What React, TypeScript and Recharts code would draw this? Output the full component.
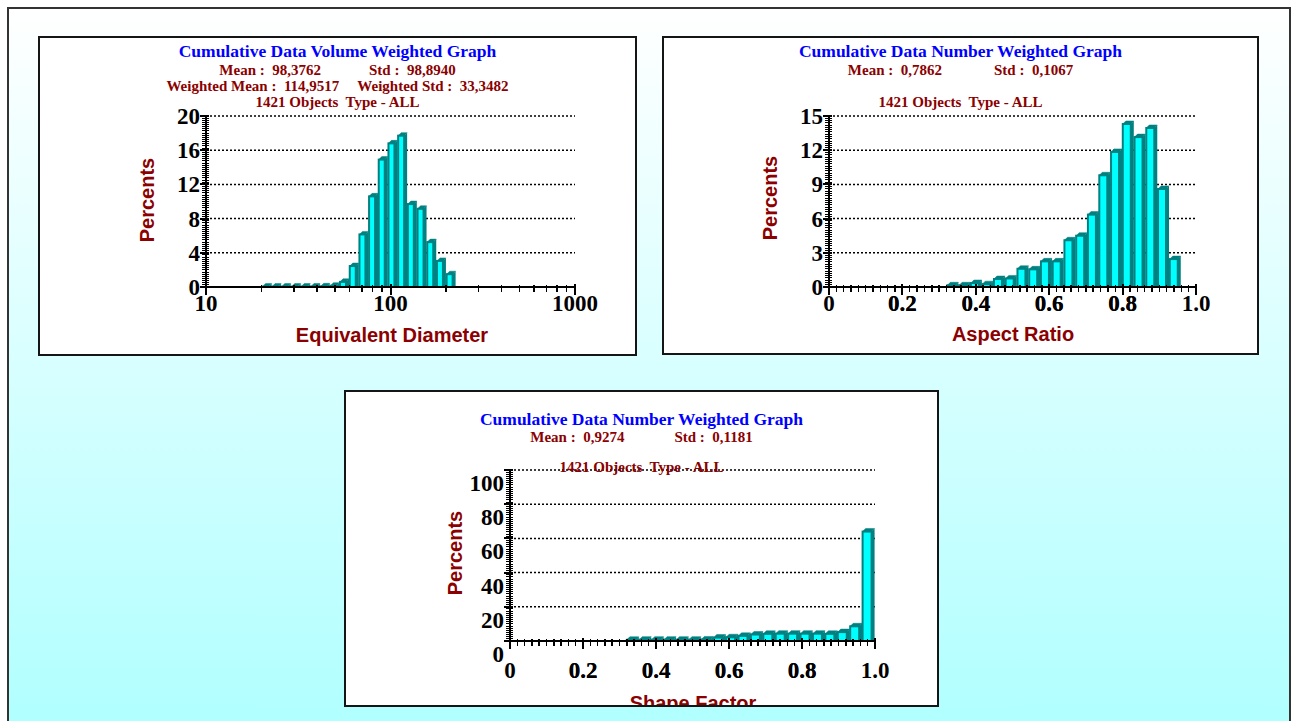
import React from "react";
import type { ReactNode } from "react";
import { Bar, BarChart, CartesianGrid, XAxis, YAxis } from "recharts";

// Equivalent Diameter histogram (log-spaced bins, bin centre -> percent)
const diameterBins = [21.5, 24.2, 27.3, 30.9, 34.8, 39.3, 44.4, 50.1, 56.5, 63.8, 72.0, 81.2, 91.6, 103.4, 116.7, 131.7, 148.7, 167.8, 189.4, 213.7];
const diameterPercents = [0.05, 0.05, 0.05, 0.05, 0.05, 0.06, 0.08, 0.15, 0.6, 2.45, 6.15, 10.6, 14.9, 16.8, 17.7, 9.7, 9.15, 5.25, 3.05, 1.5];

// Aspect Ratio histogram
const aspectBins = [0.338, 0.37, 0.402, 0.433, 0.465, 0.497, 0.529, 0.561, 0.593, 0.625, 0.657, 0.689, 0.721, 0.752, 0.784, 0.816, 0.848, 0.88, 0.912, 0.944];
const aspectPercents = [0.15, 0.15, 0.35, 0.25, 0.7, 0.75, 1.6, 1.55, 2.25, 2.25, 4.1, 4.5, 6.35, 9.8, 11.85, 14.3, 13.15, 13.95, 8.6, 2.45];

// Shape Factor histogram
const shapeBins = [0.337, 0.371, 0.405, 0.439, 0.473, 0.507, 0.541, 0.575, 0.609, 0.643, 0.677, 0.711, 0.745, 0.779, 0.813, 0.847, 0.881, 0.915, 0.949, 0.983];
const shapePercents = [0.7, 0.8, 0.8, 0.8, 0.8, 0.8, 0.9, 2.0, 2.2, 3.0, 3.8, 4.2, 4.3, 4.3, 4.3, 4.3, 4.2, 5.2, 8.6, 64.0];

// tick labels
const diameterXTicks = [10, 100, 1000];
const diameterXMinor = [20, 30, 40, 50, 60, 70, 80, 90, 200, 300, 400, 500, 600, 700, 800, 900];
const ratioXTicks = [0, 0.2, 0.4, 0.6, 0.8, 1.0];
const diameterYTicks = [0, 4, 8, 12, 16, 20];
const aspectYTicks = [0, 3, 6, 9, 12, 15];
const shapeYTicks = [0, 20, 40, 60, 80, 100];

const SERIF = "'Liberation Serif', 'Times New Roman', serif";
const SANS = "'Liberation Sans', Arial, sans-serif";
const DARK_RED = "#8b0000";
const CYAN = "#00ffff";
const TEAL = "#008080";

const CHART_W = 595;
const CHART_H = 316;
const PLOT_TOP = 78;
const PLOT_H = 171;
const Y_AXIS_W = 60;
const X_AXIS_H = 30;

const steps = (step: number, max: number) => {
  const out: number[] = [];
  for (let i = 1; i * step < max - 1e-9; i++) out.push(+(i * step).toFixed(4));
  return out;
};
const isMajor = (v: number, majors: number[]) => majors.some((m) => Math.abs(m - v) < 1e-6);

const tickFont = { fontFamily: SERIF, fontWeight: 700, fontSize: 23, fill: "#000" };

function Bar3D(props: any) {
  const { x, y, width, height } = props;
  if (!width || height == null || height < 0) return null;
  const d = 3;
  const b = y + height;
  return (
    <g>
      <rect x={x} y={y} width={width - d} height={height} fill={CYAN} stroke={TEAL} strokeWidth={2} />
      <polygon points={`${x},${y} ${x + d},${y - d} ${x + width},${y - d} ${x + width - d},${y}`} fill={TEAL} stroke={TEAL} strokeWidth={0.5} />
      <polygon points={`${x + width - d},${y} ${x + width},${y - d} ${x + width},${b} ${x + width - d},${b}`} fill={TEAL} />
    </g>
  );
}

type HistProps = {
  bins: number[];
  values: number[];
  logX?: boolean;
  xDomain: [number, number];
  xMajor: number[];
  xMinor: number[];
  yMax: number;
  yMajor: number[];
  yMinorStep: number;
  plotLeft: number;
  plotWidth: number;
  shift: number;
  formatX: (v: number) => string;
};

function Histogram(p: HistProps) {
  const data = p.bins.map((b, i) => ({ bin: b, pct: p.values[i] }));
  const yMinor = steps(p.yMinorStep, p.yMax).filter((v) => !isMajor(v, p.yMajor));
  const margin = {
    left: p.plotLeft - Y_AXIS_W,
    top: PLOT_TOP,
    right: CHART_W - p.plotLeft - p.plotWidth,
    bottom: CHART_H - PLOT_TOP - PLOT_H - X_AXIS_H,
  };

  const xTick = (t: any) => {
    const major = isMajor(t.payload.value, p.xMajor);
    return (
      <g>
        <line
          x1={t.x}
          x2={t.x}
          y1={t.y - (major ? 3 : 2.5)}
          y2={t.y + (major ? 8 : 5)}
          stroke="#000"
          strokeWidth={major ? 2 : 1.5}
          shapeRendering="crispEdges"
        />
        {major && (
          <text x={t.x} y={t.y + 24 + p.shift} textAnchor="middle" style={tickFont}>
            {p.formatX(t.payload.value)}
          </text>
        )}
      </g>
    );
  };

  const yTick = (t: any) => {
    const major = isMajor(t.payload.value, p.yMajor);
    return (
      <g>
        <line
          x1={t.x - (major ? 6 : 4)}
          x2={t.x + 3}
          y1={t.y}
          y2={t.y}
          stroke="#000"
          strokeWidth={major ? 2 : 1}
          shapeRendering="crispEdges"
        />
        {major && (
          <text x={t.x - 6} y={t.y + 8 + p.shift} textAnchor="end" style={tickFont}>
            {t.payload.value}
          </text>
        )}
      </g>
    );
  };

  return (
    <BarChart width={CHART_W} height={CHART_H} data={data} margin={margin} barCategoryGap={0} barGap={0}>
      <CartesianGrid
        vertical={false}
        horizontalValues={p.yMajor.filter((v) => v > 0)}
        stroke="#000"
        strokeDasharray="2 2"
        strokeWidth={1.5}
      />
      <XAxis
        dataKey="bin"
        type="number"
        scale={p.logX ? "log" : "linear"}
        domain={p.xDomain}
        allowDataOverflow
        ticks={[...p.xMinor, ...p.xMajor].sort((a, b) => a - b)}
        interval={0}
        tickSize={0}
        tickMargin={0}
        height={X_AXIS_H}
        axisLine={{ stroke: "#000", strokeWidth: 2 }}
        tickLine={false}
        tick={xTick}
      />
      <YAxis
        type="number"
        domain={[0, p.yMax]}
        allowDataOverflow
        ticks={[...yMinor, ...p.yMajor].sort((a, b) => a - b)}
        interval={0}
        tickSize={0}
        tickMargin={0}
        width={Y_AXIS_W}
        axisLine={{ stroke: "#000", strokeWidth: 2 }}
        tickLine={false}
        tick={yTick}
      />
      <Bar dataKey="pct" isAnimationActive={false} shape={(s: any) => <Bar3D {...s} />} />
    </BarChart>
  );
}

type Row = { y: number; parts: string[]; gap?: number; title?: boolean };

function Panel(props: {
  left: number;
  top: number;
  width: number;
  height: number;
  rows: Row[];
  xLabel: string;
  xLabelAt: [number, number];
  yLabelAt: [number, number];
  children: ReactNode;
}) {
  const { left, top, width, height, rows, xLabel, xLabelAt, yLabelAt, children } = props;
  const axisTitle = {
    position: "absolute" as const,
    fontFamily: SANS,
    fontWeight: 700,
    fontSize: 20,
    color: DARK_RED,
    whiteSpace: "nowrap" as const,
    lineHeight: "22px",
  };
  return (
    <div
      style={{
        position: "absolute",
        left,
        top,
        width,
        height,
        boxSizing: "border-box",
        border: "2px solid #151515",
        background: "#fff",
        overflow: "hidden",
      }}
    >
      <div style={{ position: "absolute", left: 0, top: 0 }}>{children}</div>
      {rows.map((r, i) => (
        <div
          key={i}
          style={{
            position: "absolute",
            left: 0,
            right: 0,
            top: r.y - 10,
            height: 20,
            lineHeight: "20px",
            textAlign: "center",
            whiteSpace: "pre",
            fontFamily: SERIF,
            fontWeight: 700,
            fontSize: r.title ? 17.5 : 15,
            color: r.title ? "#0000ff" : DARK_RED,
          }}
        >
          {r.parts.map((t, j) => (
            <span key={j} style={{ marginLeft: j > 0 ? r.gap ?? 0 : 0 }}>
              {t}
            </span>
          ))}
        </div>
      ))}
      <div style={{ ...axisTitle, left: yLabelAt[0], top: yLabelAt[1], transform: "translate(-50%, -50%) rotate(-90deg)" }}>
        Percents
      </div>
      <div style={{ ...axisTitle, left: xLabelAt[0], top: xLabelAt[1], transform: "translate(-50%, -50%)" }}>{xLabel}</div>
    </div>
  );
}

const fmtRatio = (v: number) => (v === 0 ? "0" : v.toFixed(1));

export default function App() {
  return (
    <div style={{ position: "fixed", left: 0, top: 0, width: 1292, height: 721, overflow: "hidden", background: "#fff" }}>
      <div
        style={{
          position: "absolute",
          left: 7,
          top: 7,
          width: 1284,
          height: 740,
          boxSizing: "border-box",
          border: "2px solid #333",
          background: "linear-gradient(to bottom, #ffffff 0px, #b0ffff 720px)",
        }}
      />

      <Panel
        left={38}
        top={36}
        width={599}
        height={320}
        rows={[
          { y: 13, parts: ["Cumulative Data Volume Weighted Graph"], title: true },
          { y: 32, parts: ["Mean :  98,3762", "Std :  98,8940"], gap: 48 },
          { y: 48, parts: ["Weighted Mean :  114,9517", "Weighted Std :  33,3482"], gap: 18 },
          { y: 64, parts: ["1421 Objects  Type - ALL"] },
        ]}
        xLabel="Equivalent Diameter"
        xLabelAt={[352, 297]}
        yLabelAt={[107, 162]}
      >
        <Histogram
          bins={diameterBins}
          values={diameterPercents}
          logX
          xDomain={[10, 1000]}
          xMajor={diameterXTicks}
          xMinor={diameterXMinor}
          yMax={20}
          yMajor={diameterYTicks}
          yMinorStep={0.25}
          plotLeft={166}
          plotWidth={369}
          shift={0}
          formatX={(v) => String(v)}
        />
      </Panel>

      <Panel
        left={662}
        top={36}
        width={597}
        height={319}
        rows={[
          { y: 13, parts: ["Cumulative Data Number Weighted Graph"], title: true },
          { y: 32, parts: ["Mean :  0,7862", "Std :  0,1067"], gap: 52 },
          { y: 64, parts: ["1421 Objects  Type - ALL"] },
        ]}
        xLabel="Aspect Ratio"
        xLabelAt={[349, 296]}
        yLabelAt={[106, 160]}
      >
        <Histogram
          bins={aspectBins}
          values={aspectPercents}
          xDomain={[0, 1]}
          xMajor={ratioXTicks}
          xMinor={steps(0.02, 1)}
          yMax={15}
          yMajor={aspectYTicks}
          yMinorStep={0.2}
          plotLeft={165}
          plotWidth={367}
          shift={0}
          formatX={fmtRatio}
        />
      </Panel>

      <Panel
        left={344}
        top={390}
        width={595}
        height={317}
        rows={[
          { y: 27, parts: ["Cumulative Data Number Weighted Graph"], title: true },
          { y: 45, parts: ["Mean :  0,9274", "Std :  0,1181"], gap: 50 },
          { y: 75, parts: ["1421 Objects  Type - ALL"] },
        ]}
        xLabel="Shape Factor"
        xLabelAt={[347, 311]}
        yLabelAt={[109, 161]}
      >
        <Histogram
          bins={shapeBins}
          values={shapePercents}
          xDomain={[0, 1]}
          xMajor={ratioXTicks}
          xMinor={steps(0.02, 1)}
          yMax={100}
          yMajor={shapeYTicks}
          yMinorStep={1.25}
          plotLeft={164}
          plotWidth={365}
          shift={13}
          formatX={fmtRatio}
        />
      </Panel>
    </div>
  );
}
